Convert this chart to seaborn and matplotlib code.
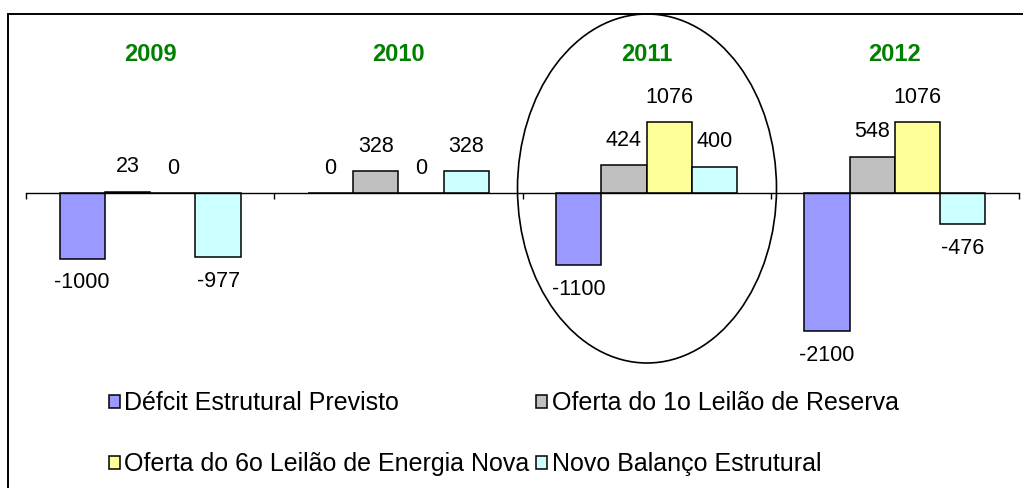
import matplotlib
matplotlib.use("Agg")
import matplotlib.pyplot as plt
from matplotlib.patches import Ellipse, Rectangle
import pandas as pd
import seaborn as sns

# data
anos = ["2009", "2010", "2011", "2012"]
series = [
    "Défcit Estrutural Previsto",
    "Oferta do 1o Leilão de Reserva",
    "Oferta do 6o Leilão de Energia Nova",
    "Novo Balanço Estrutural",
]
deficit = [-1000, 0, -1100, -2100]
oferta_reserva = [23, 328, 424, 548]
oferta_energia_nova = [0, 0, 1076, 1076]
novo_balanco = [-977, 328, 400, -476]
cores = ["#9999FF", "#C0C0C0", "#FFFF99", "#CCFFFF"]

valores = [deficit, oferta_reserva, oferta_energia_nova, novo_balanco]
df = pd.DataFrame({
    "ano": [a for s in series for a in anos],
    "serie": [s for s in series for a in anos],
    "valor": [v for vals in valores for v in vals],
})

sns.set_style("white")
plt.rcParams["font.family"] = ["Liberation Sans", "DejaVu Sans"]
plt.rcParams["text.color"] = "black"

W, H = 1023, 488
fig = plt.figure(figsize=(W / 100, H / 100), dpi=100)
ax = fig.add_axes([26 / W, 1 - 357.5 / H, 993 / W, (357.5 - 22) / H])

sns.barplot(data=df, x="ano", y="valor", hue="serie", hue_order=series,
            palette=cores, width=0.73, edgecolor="black", linewidth=1.1,
            saturation=1, ax=ax, legend=False)

ax.set_xlim(-0.5, 3.5)
ax.set_ylim(-2500, 2600)
for s in ["top", "right", "left"]:
    ax.spines[s].set_visible(False)
ax.spines["bottom"].set_position(("data", 0))
ax.spines["bottom"].set_linewidth(1.0)
ax.spines["bottom"].set_color("black")
ax.set_xticks([-0.5, 0.5, 1.5, 2.5, 3.5])
ax.set_xticklabels([])
ax.tick_params(axis="x", direction="out", length=4, width=1, bottom=True,
               color="black")
ax.set_yticks([])
ax.set_xlabel("")
ax.set_ylabel("")

# value labels
for cont, vals in zip(ax.containers, valores):
    for bar, v in zip(cont, vals):
        x = bar.get_x() + bar.get_width() / 2
        off = 25 if v >= 0 else -24
        ax.annotate(str(v), (x, v), xytext=(0, off), textcoords="offset pixels",
                    ha="center", va="center", fontsize=15.5, color="black")

# year labels
for i, a in enumerate(anos):
    ax.text(i, 2100, a, ha="center", va="center", fontsize=17,
            fontweight="bold", color="#008000")

# legend (column-major order so rows read like the original)
ordem = [0, 2, 1, 3]
ax.legend([ax.containers[i] for i in ordem], [series[i] for i in ordem],
          loc="upper left",
          bbox_to_anchor=(109 / W, 1 - 391 / H), bbox_transform=fig.transFigure,
          ncol=2, frameon=False, fontsize=18, borderpad=0, borderaxespad=0,
          handlelength=0.42, handleheight=0.42, handletextpad=0.2,
          columnspacing=0.25, labelspacing=1.5, labelcolor="black")

# ellipse around 2011 and chart frame
fig.patches.append(Ellipse((647 / W, 1 - 188.5 / H), 259 / W, 349 / H,
                           transform=fig.transFigure, fill=False,
                           edgecolor="black", linewidth=1.2))
fig.patches.append(Rectangle((8 / W, -0.1), 1.2, 1.1 - 14 / H,
                             transform=fig.transFigure, fill=False,
                             edgecolor="black", linewidth=1.4))

fig.savefig("out.png", dpi=100)
